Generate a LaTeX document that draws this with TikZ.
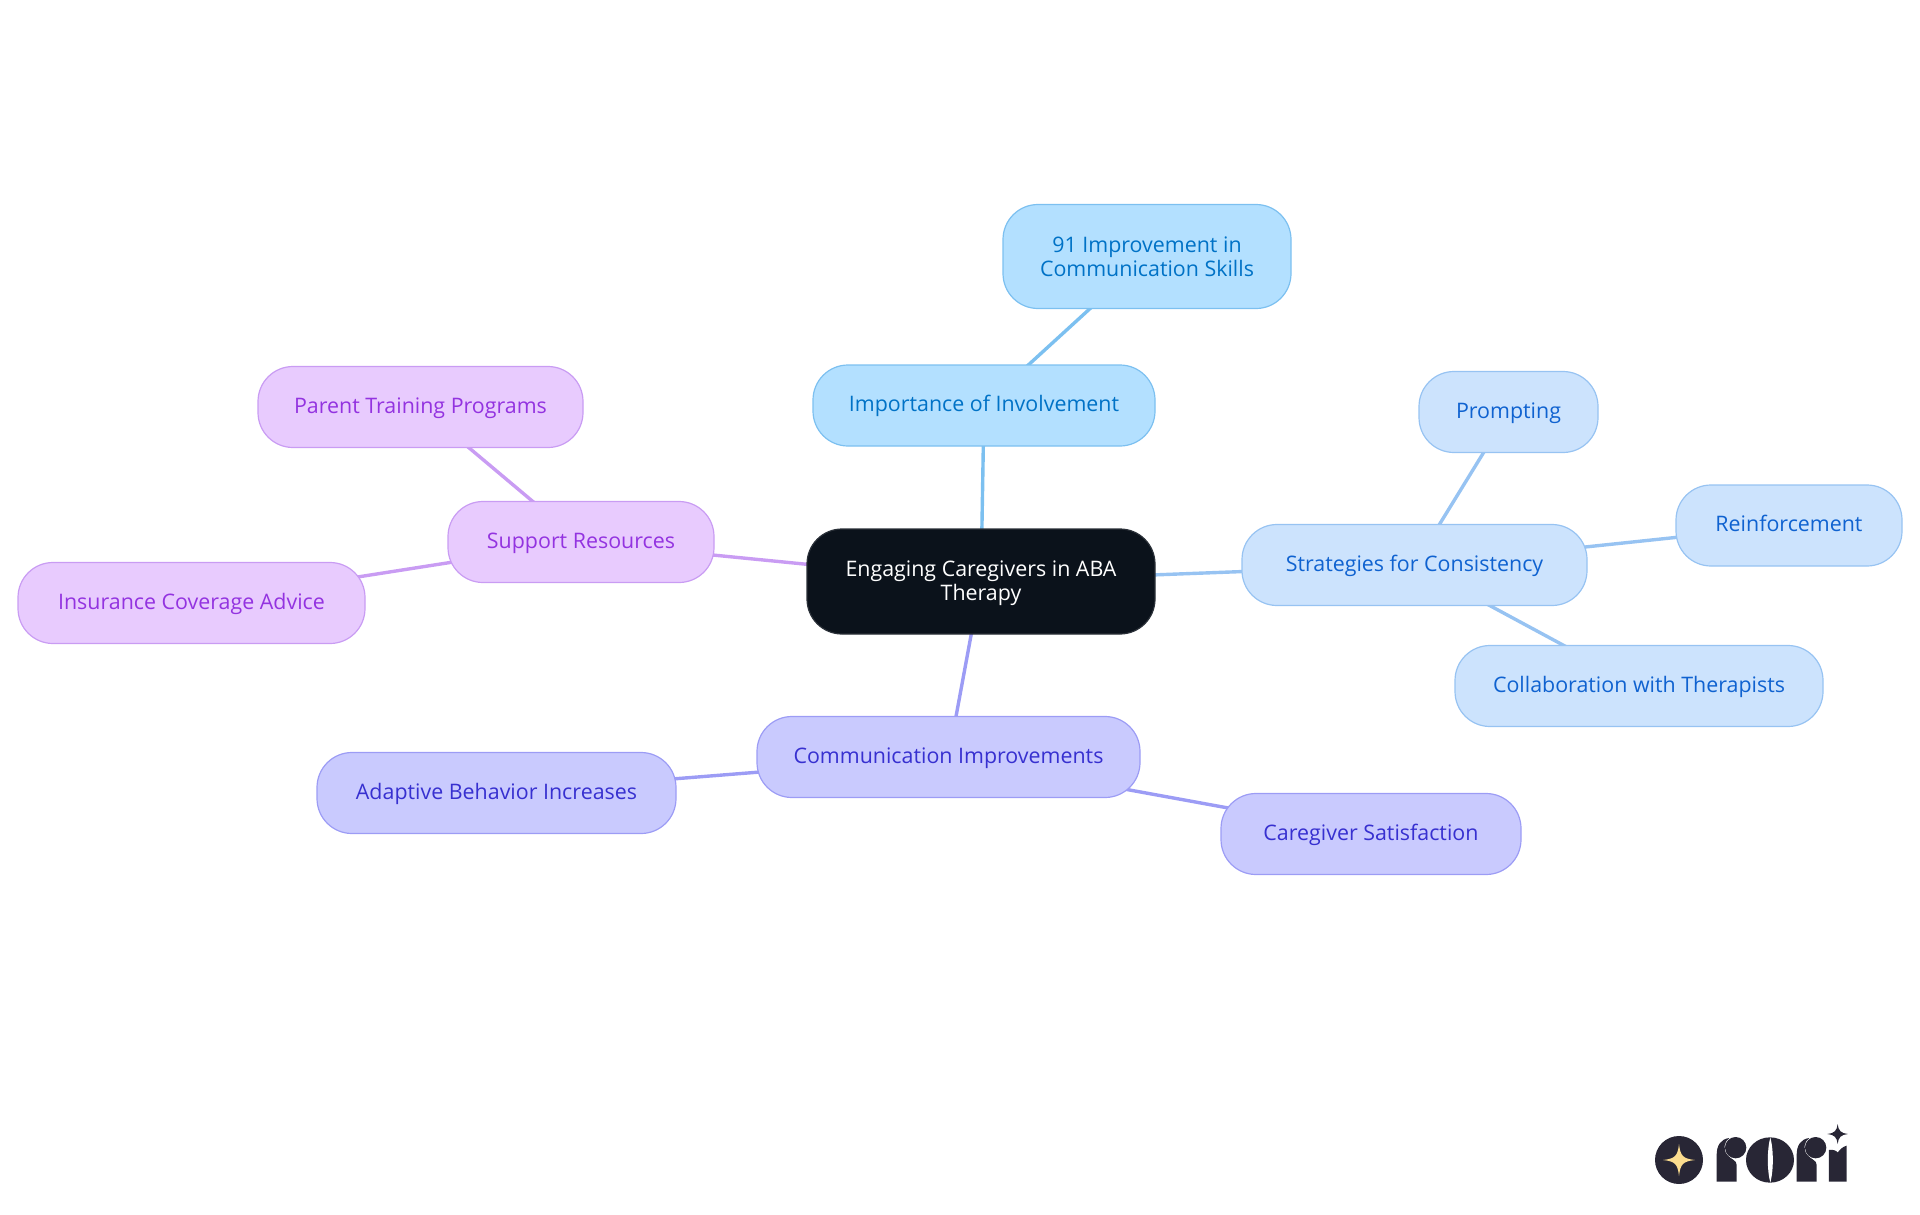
\documentclass[tikz,border=0pt]{standalone}
\usepackage{fontspec}
\setmainfont{Open Sans}
\usetikzlibrary{arrows}
\pgfdeclarelayer{links}
\pgfsetlayers{links,main}

\definecolor{rootfill}{HTML}{0B121B}
\definecolor{rootline}{HTML}{2A3038}
\definecolor{skyfill}{HTML}{B3E0FF}
\definecolor{skyline}{HTML}{7CC0F0}
\definecolor{skytext}{HTML}{0072C6}
\definecolor{bluefill}{HTML}{CCE3FD}
\definecolor{blueline}{HTML}{97C3F2}
\definecolor{bluetext}{HTML}{0F62D0}
\definecolor{violetfill}{HTML}{C9CAFE}
\definecolor{violetline}{HTML}{9C9CF5}
\definecolor{violettext}{HTML}{3730D0}
\definecolor{purplefill}{HTML}{E8CBFE}
\definecolor{purpleline}{HTML}{C99CF3}
\definecolor{purpletext}{HTML}{9333E0}
\definecolor{logodark}{HTML}{282635}
\definecolor{logostar}{HTML}{FBDC8E}

\begin{document}
\begin{tikzpicture}[x = 1pt, y = -1pt, % one unit is one pixel
                line width = 1.2pt,
                rounded corners = 35pt % node outline
            ]

            \tikzstyle{every node}=[rectangle, inner sep = 0pt, align = center,
            minimum height = 81pt, font = \fontsize{21.4}{24}\selectfont]
            \tikzstyle{oneline}=[text height = 18pt, text depth = 6pt]
            \tikzstyle{rootnode}=[draw = rootline, fill = rootfill, text = white]
            \tikzstyle{skynode}=[draw = skyline, fill = skyfill, text = skytext]
            \tikzstyle{bluenode}=[draw = blueline, fill = bluefill, text = bluetext]
            \tikzstyle{violetnode}=[draw = violetline, fill = violetfill, text = violettext]
            \tikzstyle{purplenode}=[draw = purpleline, fill = purplefill, text = purpletext]
            \tikzstyle{link}=[line width = 3.4pt, rounded corners = 0pt]

            \useasboundingbox (0,0) rectangle (1920,1215);

            \node (root) [rootnode, minimum width = 348pt, minimum height = 105pt] at (981,581.5)
            {\rule{0pt}{19pt}Engaging Caregivers in ABA\\Therapy};

            % top branch
            \node (invol) [skynode, oneline, minimum width = 342pt, node distance = 176pt,
            above of=root, xshift = 3pt] {Importance of Involvement};
            \node (impr) [skynode, minimum width = 288pt, minimum height = 104pt,
            node distance = 149pt, above of=invol, xshift = 163pt]
            {91 Improvement in\\Communication Skills};

            % right branch
            \node (strat) [bluenode, oneline, minimum width = 345pt, node distance = 433.5pt,
            right of=root, yshift = 16.5pt] {Strategies for Consistency};
            \node (prompt) [bluenode, oneline, minimum width = 179pt, node distance = 153pt,
            above of=strat, xshift = 94pt] {Prompting};
            \node (reinf) [bluenode, oneline, minimum width = 226pt, node distance = 374.5pt,
            right of=strat, yshift = 39.5pt] {Reinforcement};
            \node (collab) [bluenode, oneline, minimum width = 368pt, node distance = 121pt,
            below of=strat, xshift = 224.5pt] {Collaboration with Therapists};

            % bottom branch
            \node (comm) [violetnode, oneline, minimum width = 383pt, node distance = 175.5pt,
            below of=root, xshift = -32.5pt] {Communication Improvements};
            \node (adapt) [violetnode, oneline, minimum width = 359pt, node distance = 452pt,
            left of=comm, yshift = -36pt] {Adaptive Behavior Increases};
            \node (satis) [violetnode, oneline, minimum width = 300pt, node distance = 422.5pt,
            right of=comm, yshift = -77pt] {Caregiver Satisfaction};

            % left branch
            \node (supp) [purplenode, oneline, minimum width = 266pt, node distance = 400pt,
            left of=root, yshift = 39.5pt] {Support Resources};
            \node (parent) [purplenode, oneline, minimum width = 325pt, node distance = 135pt,
            above of=supp, xshift = -160.5pt] {Parent Training Programs};
            \node (insur) [purplenode, oneline, minimum width = 347pt, node distance = 389.5pt,
            left of=supp, yshift = -61pt] {Insurance Coverage Advice};

            \begin{pgfonlayer}{links}
            \path[link, draw = skyline] (root.center) -- (invol.center);
            \path[link, draw = skyline] (invol.center) -- (impr.center);
            \path[link, draw = blueline] (root.center) -- (strat.center);
            \path[link, draw = blueline] (strat.center) -- (prompt.center);
            \path[link, draw = blueline] (strat.center) -- (reinf.center);
            \path[link, draw = blueline] (strat.center) -- (collab.center);
            \path[link, draw = violetline] (root.center) -- (comm.center);
            \path[link, draw = violetline] (comm.center) -- (adapt.center);
            \path[link, draw = violetline] (comm.center) -- (satis.center);
            \path[link, draw = purpleline] (root.center) -- (supp.center);
            \path[link, draw = purpleline] (supp.center) -- (parent.center);
            \path[link, draw = purpleline] (supp.center) -- (insur.center);
            \end{pgfonlayer}

            % logo, drawn in thirds of a pixel
            \begin{scope}[shift = {(1620,1100)}, x = 0.3333pt, y = -0.3333pt,
            rounded corners = 0pt]
            \fill[logodark] (177,180) circle [radius = 72];
            \fill[logostar] (177,132) .. controls (181,168) and (189,176) .. (225,180)
            .. controls (189,184) and (181,192) .. (177,228)
            .. controls (173,192) and (165,184) .. (129,180)
            .. controls (165,176) and (173,168) .. (177,132) -- cycle;
            % the two r
            \foreach \rx in {0,240} {
                \fill[logodark, xshift = \rx*0.3333pt] (290,245) -- (290,165)
                .. controls (290,135) and (303,117) .. (328,114)
                .. controls (312,125) and (308,148) .. (322,165)
                .. controls (335,180) and (350,180) .. (350,195) -- (350,245) -- cycle;
                \fill[logodark, xshift = \rx*0.3333pt] (347,143) circle [radius = 32];
            }
            % the o
            \fill[logodark] (450,180) ellipse [x radius = 72, y radius = 68];
            \fill[white] (451,112) .. controls (441,150) and (441,210) .. (451,248)
            .. controls (461,210) and (461,150) .. (451,112) -- cycle;
            % the i
            \fill[logodark] (627,245) -- (627,150) .. controls (640,148) and (650,152) .. (653,158)
            .. controls (658,150) and (668,140) .. (680,137) -- (680,245) -- cycle;
            \fill[logodark] (653,72) .. controls (655,92) and (663,100) .. (684,102)
            .. controls (663,104) and (655,112) .. (653,132)
            .. controls (651,112) and (643,104) .. (622,102)
            .. controls (643,100) and (651,92) .. (653,72) -- cycle;
            \end{scope}
\end{tikzpicture}
\end{document}
